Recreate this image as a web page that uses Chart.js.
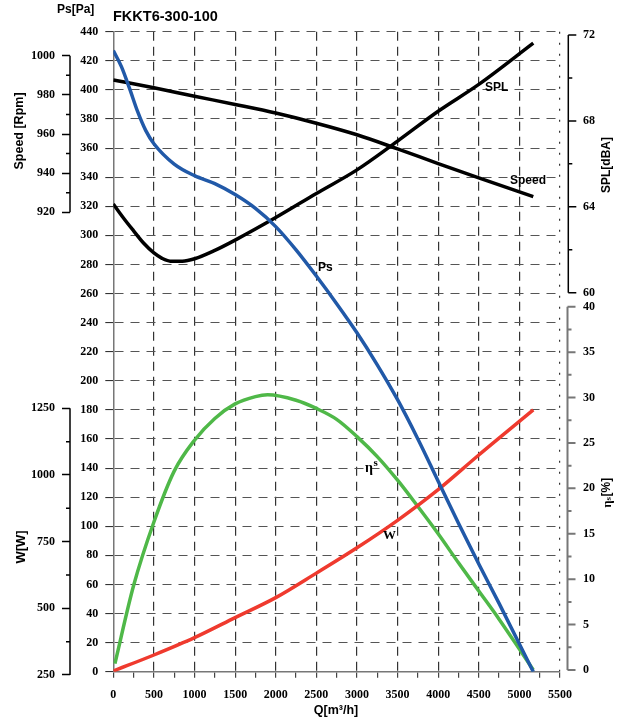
<!DOCTYPE html>
<html>
<head>
<meta charset="UTF-8" />
<title>FKKT6-300-100</title>
<style>
  html, body { margin: 0; padding: 0; background: #fff; }
  #wrap { width: 621px; height: 721px; }
</style>
</head>
<body>
<div id="wrap"><canvas id="fanChart"></canvas></div>
<script src="https://cdn.jsdelivr.net/npm/chart.js"></script>
<script>
  // values
  const psQ = [0, 100, 200, 300, 400, 500, 750, 1000, 1250, 1500, 1750, 2000, 2250, 2500, 2750, 3000, 3250, 3500, 3750, 4000, 4250, 4500, 4750, 5000, 5171];
  const psPa = [427, 416, 401, 385, 372, 363, 349, 341, 335.5, 328, 318.5, 306, 290, 272, 253, 233, 211, 187, 160, 131, 102, 74, 47, 19, 0];

  const speedQ = [0, 500, 1000, 1500, 2000, 2500, 3000, 3500, 4000, 4500, 5171];
  const speedRpm = [987.6, 983.6, 979.3, 975.1, 970.7, 965.5, 959.6, 952.4, 944.9, 937.6, 928];

  const splQ = [0, 125, 250, 375, 500, 600, 700, 850, 1000, 1250, 1500, 2000, 2500, 3000, 3500, 4000, 4500, 5171];
  const splDb = [64.13, 63.48, 62.88, 62.3, 61.85, 61.6, 61.47, 61.47, 61.58, 61.97, 62.45, 63.5, 64.62, 65.72, 67.06, 68.45, 69.7, 71.62];

  const wQ = [0, 500, 1000, 1500, 2000, 2500, 3000, 3500, 4000, 4500, 5171];
  const wW = [265, 325, 390, 465, 540, 632, 727, 830, 945, 1075, 1244];

  const etaQ = [20, 250, 500, 750, 1000, 1250, 1500, 1750, 1900, 2250, 2500, 2750, 3000, 3250, 3500, 3750, 4000, 4250, 4500, 4750, 5000, 5171];
  const etaPct = [0.7, 9.3, 16.3, 21.9, 25.3, 27.7, 29.3, 30.1, 30.3, 29.7, 28.8, 27.6, 25.7, 23.5, 20.9, 18.0, 15.0, 11.8, 8.7, 5.6, 2.3, 0];

  // tick labels
  const qTicks = [0, 250, 500, 750, 1000, 1250, 1500, 1750, 2000, 2250, 2500, 2750, 3000, 3250, 3500, 3750, 4000, 4250, 4500, 4750, 5000, 5250, 5500];
  const psTicks = [0, 20, 40, 60, 80, 100, 120, 140, 160, 180, 200, 220, 240, 260, 280, 300, 320, 340, 360, 380, 400, 420, 440];
  const speedTicks = [920, 940, 960, 980, 1000];
  const speedMinor = [930, 950, 970, 990];
  const wTicks = [250, 500, 750, 1000, 1250];
  const wMinor = [375, 625, 875, 1125];
  const splTicks = [60, 64, 68, 72];
  const splMinor = [62, 66, 70];
  const etaTicks = [0, 5, 10, 15, 20, 25, 30, 35, 40];
  const etaMinor = [2.5, 7.5, 12.5, 17.5, 22.5, 27.5, 32.5, 37.5];

  const SANS = '"Liberation Sans", Arial, sans-serif';
  const SERIF = '"Liberation Serif", "Times New Roman", serif';
  const tickFont = { family: SERIF, weight: 'bold', size: 12 };

  const pts = (xs, ys) => xs.map((x, i) => ({ x: x, y: ys[i] }));
  const setTicks = (list) => (scale) => { scale.ticks = list.map(v => ({ value: v })); };
  const plain = (v) => String(v);

  function vText(ctx, txt, x, y, font) {
    ctx.save();
    ctx.translate(x, y);
    ctx.rotate(-Math.PI / 2);
    ctx.font = font;
    ctx.textAlign = 'center';
    ctx.textBaseline = 'middle';
    ctx.fillText(txt, 0, 0);
    ctx.restore();
  }

  // partial axis line + minor/major tick marks for the side scales
  function sideAxis(ctx, scale, x, from, to, major, minor, dir, color, width) {
    ctx.save();
    ctx.strokeStyle = color;
    ctx.lineWidth = width;
    ctx.beginPath();
    ctx.moveTo(x, scale.getPixelForValue(from));
    ctx.lineTo(x, scale.getPixelForValue(to));
    major.forEach(v => {
      const y = scale.getPixelForValue(v);
      ctx.moveTo(x, y); ctx.lineTo(x + dir * 8, y);
    });
    minor.forEach(v => {
      const y = scale.getPixelForValue(v);
      ctx.moveTo(x, y); ctx.lineTo(x + dir * 4, y);
    });
    ctx.stroke();
    ctx.restore();
  }

  const decoPlugin = {
    id: 'deco',
    afterDraw(chart) {
      const ctx = chart.ctx;
      const s = chart.scales;
      sideAxis(ctx, s.speed, 70, 920, 1000, [], speedMinor, -1, '#000', 1.5);
      sideAxis(ctx, s.pw, 70, 250, 1250, [], wMinor, -1, '#000', 1.5);
      sideAxis(ctx, s.spl, 568.3, 60, 72, splTicks, splMinor, 1, '#000', 1.5);
      sideAxis(ctx, s.eta, 567.5, 0, 40, etaTicks, etaMinor, 1, '#777', 2);

      ctx.save();
      ctx.fillStyle = '#000';
      ctx.textBaseline = 'middle';
      ctx.textAlign = 'left';
      ctx.font = 'bold 14.5px ' + SANS;
      ctx.fillText('FKKT6-300-100', 113, 17);
      ctx.font = 'bold 12px ' + SANS;
      ctx.fillText('Ps[Pa]', 57, 10);
      ctx.fillText('SPL', 485, 88);
      ctx.fillText('Speed', 510, 181);
      ctx.fillText('Ps', 318, 268);
      ctx.textAlign = 'center';
      ctx.font = 'bold 12.5px ' + SANS;
      ctx.fillText('Q[m³/h]', 336, 711);

      ctx.textAlign = 'left';
      ctx.textBaseline = 'alphabetic';
      ctx.font = 'bold 14px ' + SERIF;
      ctx.fillText('η', 365, 472);
      ctx.font = 'bold 11px ' + SERIF;
      ctx.fillText('s', 373.5, 466);
      ctx.font = 'bold 13px ' + SERIF;
      ctx.fillText('W', 383, 539);

      vText(ctx, 'Speed [Rpm]', 20, 131, 'bold 12.5px ' + SANS);
      vText(ctx, 'W[W]', 21, 547, 'bold 13px ' + SANS);
      vText(ctx, 'SPL[dBA]', 607, 165, 'bold 12px ' + SANS);

      // eta_s[%] title, bottom to top
      ctx.save();
      ctx.translate(607, 493);
      ctx.rotate(-Math.PI / 2);
      ctx.textBaseline = 'middle';
      ctx.textAlign = 'left';
      const f1 = 'bold 13px ' + SERIF, f2 = 'bold 9px ' + SERIF, f3 = 'bold 12px ' + SANS;
      ctx.font = f1; const w1 = ctx.measureText('η').width;
      ctx.font = f2; const w2 = ctx.measureText('s').width;
      ctx.font = f3; const w3 = ctx.measureText('[%]').width;
      const x0 = -(w1 + w2 + w3) / 2;
      ctx.font = f1; ctx.fillText('η', x0, 1);
      ctx.font = f2; ctx.fillText('s', x0 + w1, 2);
      ctx.font = f3; ctx.fillText('[%]', x0 + w1 + w2 + 0.5, 0);
      ctx.restore();
      ctx.restore();
    }
  };

  const lineSet = (label, data, axis, color) => ({
    label: label,
    data: data,
    yAxisID: axis,
    borderColor: color,
    borderWidth: 3.5,
    pointRadius: 0,
    fill: false,
    cubicInterpolationMode: 'monotone'
  });

  new Chart(document.getElementById('fanChart'), {
    type: 'line',
    data: {
      datasets: [
        lineSet('Ps', pts(psQ, psPa), 'ps', '#2159a8'),
        lineSet('W', pts(wQ, wW), 'pw', '#ef3a2e'),
        lineSet('ηs', pts(etaQ, etaPct), 'eta', '#4fb848'),
        lineSet('SPL', pts(splQ, splDb), 'spl', '#000000'),
        lineSet('Speed', pts(speedQ, speedRpm), 'speed', '#000000')
      ]
    },
    options: {
      responsive: true,
      maintainAspectRatio: false,
      animation: false,
      layout: { padding: { top: 31.7, right: 0, bottom: 0, left: 0 } },
      plugins: { legend: { display: false }, tooltip: { enabled: false } },
      scales: {
        x: {
          type: 'linear',
          position: 'bottom',
          min: 0,
          max: 5500,
          afterBuildTicks: setTicks(qTicks),
          afterFit: (scale) => { scale.height = 49.3; },
          ticks: {
            autoSkip: false,
            maxRotation: 0,
            padding: 10,
            color: '#000',
            font: tickFont,
            callback: (v) => (v % 500 === 0 ? String(v) : '')
          },
          grid: {
            color: (c) => (c.tick && c.tick.value % 500 === 0 && c.tick.value > 0 ? '#333' : 'rgba(0,0,0,0)'),
            tickColor: '#444',
            tickLength: 6,
            lineWidth: 1.2
          },
          border: {
            display: true,
            color: '#777',
            width: 1.5,
            dash: (c) => (c.tick && c.tick.value === 5500 ? [2, 9] : [9, 6])
          }
        },
        ps: {
          type: 'linear',
          position: 'left',
          weight: 0,
          min: 0,
          max: 440,
          afterBuildTicks: setTicks(psTicks),
          afterFit: (scale) => { scale.width = 43.3; },
          ticks: { autoSkip: false, padding: 7, color: '#000', font: tickFont, callback: plain },
          grid: { color: '#555', tickColor: '#333', tickLength: 8, lineWidth: 1.1 },
          border: { display: true, color: '#777', width: 1.5, dash: [9, 7] }
        },
        speed: {
          type: 'linear',
          position: 'left',
          stack: 'outerLeft',
          stackWeight: 268.3,
          weight: 2,
          min: 875.2,
          max: 1012.26,
          afterBuildTicks: setTicks(speedTicks),
          afterFit: (scale) => { scale.width = 70; },
          ticks: { autoSkip: false, padding: 7, color: '#000', font: tickFont, callback: plain },
          grid: { drawOnChartArea: false, tickColor: '#000', tickLength: 8, tickWidth: 1.5 },
          border: { display: false }
        },
        pw: {
          type: 'linear',
          position: 'left',
          stack: 'outerLeft',
          stackWeight: 371.7,
          weight: 1,
          min: 262.37,
          max: 1656.1,
          afterBuildTicks: setTicks(wTicks),
          afterFit: (scale) => { scale.width = 70; },
          ticks: { autoSkip: false, padding: 7, color: '#000', font: tickFont, callback: plain },
          grid: { drawOnChartArea: false, tickColor: '#000', tickLength: 8, tickWidth: 1.5 },
          border: { display: false }
        },
        spl: {
          type: 'linear',
          position: 'right',
          stack: 'outerRight',
          stackWeight: 268.3,
          weight: 1,
          min: 59.66,
          max: 72.154,
          afterBuildTicks: setTicks(splTicks),
          afterFit: (scale) => { scale.width = 61; },
          ticks: { autoSkip: false, padding: 23, color: '#000', font: tickFont, callback: plain },
          grid: { display: false, drawTicks: false },
          border: { display: false }
        },
        eta: {
          type: 'linear',
          position: 'right',
          stack: 'outerRight',
          stackWeight: 371.7,
          weight: 2,
          min: -0.187,
          max: 40.74,
          afterBuildTicks: setTicks(etaTicks),
          afterFit: (scale) => { scale.width = 61; },
          ticks: { autoSkip: false, padding: 23, color: '#000', font: tickFont, callback: plain },
          grid: { display: false, drawTicks: false },
          border: { display: false }
        }
      }
    },
    plugins: [decoPlugin]
  });
</script>
</body>
</html>
